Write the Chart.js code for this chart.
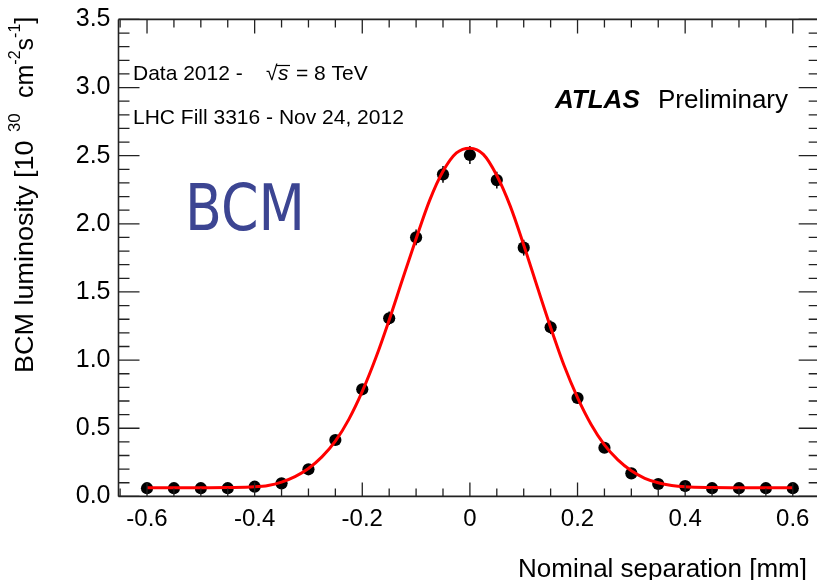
<!DOCTYPE html>
<html>
<head>
<meta charset="utf-8">
<script src="https://cdn.jsdelivr.net/npm/chart.js@4/dist/chart.umd.min.js"></script>
<style>
  html, body { margin: 0; padding: 0; background: #ffffff; }
  #wrap { width: 817px; height: 580px; position: relative; }
</style>
</head>
<body>
<div id="wrap"><canvas id="c" width="817" height="580"></canvas></div>
<script>
// ---- data ----
const separation = [-0.6, -0.55, -0.5, -0.45, -0.4, -0.35, -0.3, -0.25, -0.2, -0.15, -0.1, -0.05,
                    0, 0.05, 0.1, 0.15, 0.2, 0.25, 0.3, 0.35, 0.4, 0.45, 0.5, 0.55, 0.6];
const luminosity = [0.060, 0.060, 0.060, 0.060, 0.071, 0.096, 0.199, 0.414, 0.786, 1.307, 1.901, 2.363,
                    2.505, 2.321, 1.825, 1.241, 0.722, 0.357, 0.169, 0.091, 0.076, 0.060, 0.060, 0.060, 0.060];
const luminosityErr = [0.02, 0.02, 0.02, 0.02, 0.02, 0.02, 0.025, 0.03, 0.04, 0.05, 0.058, 0.062,
                       0.066, 0.062, 0.058, 0.05, 0.04, 0.03, 0.025, 0.02, 0.02, 0.02, 0.02, 0.02, 0.02];
const fitX = [-0.6, -0.55, -0.5, -0.45, -0.4, -0.375, -0.35, -0.325, -0.3, -0.275, -0.25, -0.225, -0.2,
              -0.175, -0.15, -0.125, -0.1, -0.075, -0.05, -0.025, 0, 0.025, 0.05, 0.075, 0.1, 0.125,
              0.15, 0.175, 0.2, 0.225, 0.25, 0.275, 0.3, 0.325, 0.35, 0.375, 0.4, 0.45, 0.5, 0.55, 0.6];
const fitY = [0.064, 0.064, 0.064, 0.065, 0.070, 0.080, 0.105, 0.145, 0.205, 0.290, 0.405, 0.565, 0.770,
              1.015, 1.295, 1.595, 1.890, 2.170, 2.385, 2.520, 2.555, 2.510, 2.355, 2.130, 1.845, 1.540,
              1.240, 0.960, 0.725, 0.530, 0.378, 0.268, 0.188, 0.133, 0.100, 0.080, 0.070, 0.065, 0.064, 0.064, 0.064];
const xTickValues = [-0.6, -0.4, -0.2, 0, 0.2, 0.4, 0.6];
const xTickLabels = ["-0.6", "-0.4", "-0.2", "0", "0.2", "0.4", "0.6"];
const yTickValues = [0, 0.5, 1, 1.5, 2, 2.5, 3, 3.5];
const yTickLabels = ["0.0", "0.5", "1.0", "1.5", "2.0", "2.5", "3.0", "3.5"];

const FONT = "'Liberation Sans', Arial, Helvetica, sans-serif";

// draws rotated text upward from yStart, returns the new y (top end)
function rotText(ctx, text, font, xBase, yStart, stretch) {
  ctx.save();
  ctx.font = font;
  const w = ctx.measureText(text).width * stretch;
  ctx.translate(xBase, yStart);
  ctx.rotate(-Math.PI / 2);
  ctx.scale(stretch, 1);
  ctx.textAlign = 'left';
  ctx.textBaseline = 'alphabetic';
  ctx.fillText(text, 0, 0);
  ctx.restore();
  return yStart - w;
}

const decor = {
  id: 'decor',
  beforeDatasetsDraw(chart) {
    const ctx = chart.ctx, xs = chart.scales.x, ys = chart.scales.y;
    ctx.save();
    ctx.strokeStyle = '#000';
    ctx.lineWidth = 1.5;
    for (let i = 0; i < separation.length; i++) {
      const px = xs.getPixelForValue(separation[i]);
      ctx.beginPath();
      ctx.moveTo(px, ys.getPixelForValue(luminosity[i] - luminosityErr[i]));
      ctx.lineTo(px, ys.getPixelForValue(luminosity[i] + luminosityErr[i]));
      ctx.stroke();
    }
    ctx.restore();
  },
  afterDraw(chart) {
    const ctx = chart.ctx, xs = chart.scales.x, ys = chart.scales.y;
    const L = chart.chartArea.left, T = chart.chartArea.top, B = chart.chartArea.bottom;
    const R = xs.getPixelForValue(0.65);
    ctx.save();
    // frame
    ctx.strokeStyle = '#222';
    ctx.lineWidth = 1.6;
    ctx.beginPath();
    ctx.moveTo(L, T); ctx.lineTo(R, T);
    ctx.moveTo(L, T); ctx.lineTo(L, B);
    ctx.moveTo(L, B); ctx.lineTo(R, B);
    ctx.moveTo(R, T); ctx.lineTo(R, B);
    ctx.stroke();
    // y ticks (inward, both sides)
    ctx.lineWidth = 1.3;
    ctx.beginPath();
    for (let k = 0; k <= 35; k++) {
      const v = k / 10;
      const py = ys.getPixelForValue(v);
      const len = (k % 5 === 0) ? 21 : 11;
      ctx.moveTo(L, py); ctx.lineTo(L + len, py);
      ctx.moveTo(R, py); ctx.lineTo(R - len, py);
    }
    // x ticks (inward, top and bottom)
    for (let k = -13; k <= 13; k++) {
      const v = k * 0.05;
      const px = xs.getPixelForValue(v);
      const len = (k % 4 === 0) ? 14 : 8;
      ctx.moveTo(px, B); ctx.lineTo(px, B - len);
      ctx.moveTo(px, T); ctx.lineTo(px, T + len);
    }
    ctx.stroke();

    // texts
    ctx.fillStyle = '#000';
    ctx.textAlign = 'left';
    ctx.textBaseline = 'alphabetic';
    ctx.font = "21px " + FONT;
    ctx.fillText('Data 2012 -', 133, 80);
    ctx.fillText('\u221A', 266, 80);
    ctx.font = "italic 21px " + FONT;
    ctx.fillText('s', 278, 80);
    ctx.font = "21px " + FONT;
    ctx.fillText('= 8 TeV', 296, 80);
    ctx.strokeStyle = '#000';
    ctx.lineWidth = 1.2;
    ctx.beginPath(); ctx.moveTo(276, 65.5); ctx.lineTo(290, 65.5); ctx.stroke();
    ctx.fillText('LHC Fill 3316 - Nov 24, 2012', 133, 124);

    ctx.font = "italic bold 26px " + FONT;
    ctx.fillText('ATLAS', 555, 108);
    ctx.font = "26px " + FONT;
    ctx.fillText('Preliminary', 658, 108);

    // BCM label
    ctx.save();
    ctx.font = "64px 'DejaVu Sans', Verdana, sans-serif";
    const w = ctx.measureText('BCM').width;
    ctx.fillStyle = '#3c4592';
    ctx.translate(185, 230);
    ctx.scale(120 / w, 1);
    ctx.fillText('BCM', 0, 0);
    ctx.restore();

    // x axis title
    ctx.font = "26px " + FONT;
    ctx.textAlign = 'right';
    ctx.fillText('Nominal separation [mm]', 807, 577);
    ctx.textAlign = 'left';

    // y axis title (rotated, pieces)
    const big = "25px " + FONT, small = "16px " + FONT;
    rotText(ctx, 'BCM luminosity [10', big, 33, 373, 1.08);
    rotText(ctx, '30', small, 20, 132, 1.05);
    let y = rotText(ctx, 'cm', big, 33, 98, 1.0);
    y = rotText(ctx, '-2', small, 20, y, 1.0);
    y = rotText(ctx, 's', big, 33, y, 1.0);
    y = rotText(ctx, '-1', small, 20, y, 1.0);
    rotText(ctx, ']', big, 33, y, 1.0);
    ctx.restore();
  }
};

new Chart(document.getElementById('c'), {
  type: 'scatter',
  data: {
    datasets: [
      {
        label: 'fit',
        data: fitX.map((x, i) => ({ x: x, y: fitY[i] })),
        showLine: true,
        borderColor: '#ff0000',
        borderWidth: 3,
        pointRadius: 0,
        cubicInterpolationMode: 'monotone',
        fill: false
      },
      {
        label: 'BCM',
        data: separation.map((x, i) => ({ x: x, y: luminosity[i] })),
        showLine: false,
        pointRadius: 6.1,
        pointBackgroundColor: '#000',
        pointBorderColor: '#000',
        pointBorderWidth: 0
      }
    ]
  },
  options: {
    responsive: false,
    animation: false,
    devicePixelRatio: 1,
    layout: { autoPadding: false, padding: { top: 19.4, right: 0, bottom: 0, left: 0 } },
    plugins: { legend: { display: false }, tooltip: { enabled: false } },
    scales: {
      x: {
        type: 'linear',
        min: -0.653,
        max: 0.645,
        grid: { display: false, drawTicks: false },
        border: { display: false },
        afterBuildTicks: (s) => { s.ticks = xTickValues.map(v => ({ value: v })); },
        afterFit: (s) => { s.height = 83.6; s.paddingLeft = 0; s.paddingRight = 0; },
        ticks: {
          autoSkip: false, maxRotation: 0, minRotation: 0,
          padding: 9,
          color: '#000',
          font: { family: FONT, size: 24 },
          callback: (v, i) => xTickLabels[i]
        }
      },
      y: {
        type: 'linear',
        min: 0,
        max: 3.5,
        grid: { display: false, drawTicks: false },
        border: { display: false },
        afterBuildTicks: (s) => { s.ticks = yTickValues.map(v => ({ value: v })); },
        afterFit: (s) => { s.width = 118.5; s.paddingTop = 0; s.paddingBottom = 0; },
        ticks: {
          autoSkip: false,
          padding: 8,
          color: '#000',
          font: { family: FONT, size: 25 },
          callback: (v, i) => yTickLabels[i]
        }
      }
    }
  },
  plugins: [decor]
});
</script>
</body>
</html>
